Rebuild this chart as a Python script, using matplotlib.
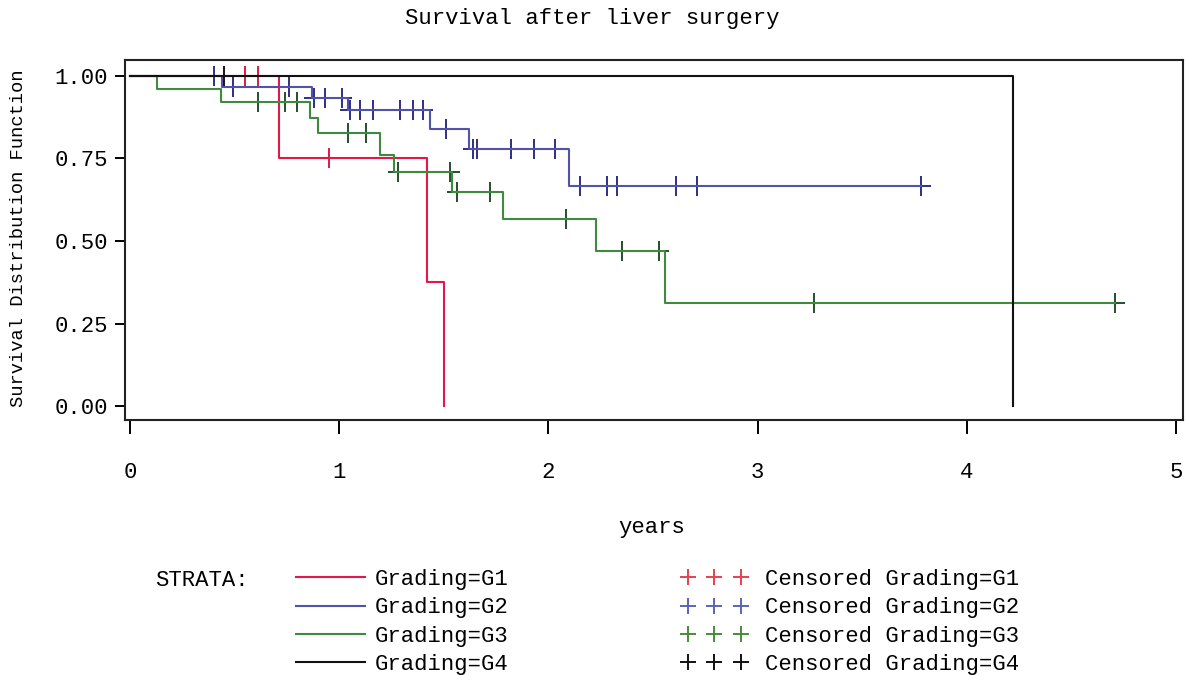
import numpy as np
import matplotlib
matplotlib.use("Agg")
import matplotlib.pyplot as plt
from matplotlib.lines import Line2D

plt.rcParams['font.family'] = ['Liberation Mono', 'DejaVu Sans Mono']

# Kaplan-Meier estimates per grading stratum (years, survival)
g1_times = [0.71, 1.42, 1.50]
g1_surv = [0.75, 0.375, 0.0]
g1_cens = [0.55, 0.61, 0.95]

g2_times = [0.44, 0.87, 1.04, 1.435, 1.62, 2.10]
g2_surv = [0.967, 0.933, 0.896, 0.84, 0.78, 0.667]
g2_cens = [0.40, 0.49, 0.76, 0.88, 0.93, 1.015, 1.05, 1.10, 1.16, 1.29,
           1.355, 1.40, 1.51, 1.64, 1.66, 1.82, 1.93, 2.03, 2.15, 2.28,
           2.33, 2.61, 2.71, 3.78]

g3_times = [0.13, 0.435, 0.86, 0.90, 1.195, 1.26, 1.54, 1.785, 2.23, 2.56]
g3_surv = [0.96, 0.92, 0.873, 0.827, 0.76, 0.709, 0.648, 0.567, 0.47, 0.312]
g3_cens = [0.61, 0.74, 0.80, 1.04, 1.13, 1.28, 1.53, 1.565, 1.72, 2.085,
           2.35, 2.53, 3.27, 4.71]

g4_times = [4.22]
g4_surv = [0.0]
g4_cens = [0.45]

labels = ['Grading=G1', 'Grading=G2', 'Grading=G3', 'Grading=G4']
line_cols = ['#e3174a', '#5252a8', '#3f8a3f', '#111111']
mark_cols = ['#d81a45', '#2e2e86', '#24502a', '#111111']
leg_mark_cols = ['#e8404f', '#5a64b4', '#4a8a3a', '#111111']

groups = [(g1_times, g1_surv, g1_cens),
          (g2_times, g2_surv, g2_cens),
          (g3_times, g3_surv, g3_cens),
          (g4_times, g4_surv, g4_cens)]

FS = 16

fig = plt.figure(figsize=(11.87, 6.75), dpi=100)
ax = fig.add_axes([0.1053, 0.3778, 0.8913, 0.5333])

for k, ((t, s, c), lc, mc) in enumerate(zip(groups, line_cols, mark_cols)):
    t = np.asarray(t)
    s = np.asarray(s)
    c = np.asarray(c)
    end = max(t.max(), c.max())
    xs = np.concatenate([[0.0], t, [end]])
    ys = np.concatenate([[1.0], s, [s[-1]]])
    # censor marks under the curve so only the vertical stroke shows
    idx = np.searchsorted(t, c, side='right')
    cy = np.concatenate([[1.0], s])[idx]
    ax.plot(c, cy, ls='none', marker='+', ms=14, mew=1.4, color=mc, zorder=2 + 2 * k)
    ax.step(xs, ys, where='post', color=lc, lw=1.5, zorder=3 + 2 * k)

ax.set_xlim(-0.024, 5.034)
ax.set_ylim(-0.042, 1.048)
ax.set_xticks([0, 1, 2, 3, 4, 5])
ax.set_yticks([0.0, 0.25, 0.5, 0.75, 1.0])
ax.set_yticklabels(['%.2f' % v for v in [0.0, 0.25, 0.5, 0.75, 1.0]])
ax.tick_params(axis='x', direction='out', length=10, width=1.4, pad=20, labelsize=FS)
ax.tick_params(axis='y', direction='out', length=7, width=1.4, pad=5, labelsize=FS)
for sp in ax.spines.values():
    sp.set_linewidth(1.5)
    sp.set_color('#222222')
    sp.set_zorder(20)

fig.text(0.4987, 0.973, 'Survival after liver surgery', ha='center', va='center',
         fontsize=FS)
fig.text(0.0152, 0.647, 'Survival Distribution Function', rotation=90,
         ha='center', va='center', fontsize=13.5)
fig.text(0.549, 0.219, 'years', ha='center', va='center', fontsize=FS)
fig.text(0.1306, 0.1407, 'STRATA:', ha='left', va='center', fontsize=FS)

line_handles = [Line2D([], [], color=lc, lw=1.5) for lc in line_cols]
leg1 = fig.legend(line_handles, labels, loc='upper left',
                  bbox_to_anchor=(296 / 1187, 1 - 569 / 675),
                  frameon=False, fontsize=FS, handlelength=3.1,
                  handletextpad=0.45, labelspacing=0.33, borderpad=0,
                  borderaxespad=0)

mark_handles = [Line2D([], [], ls='none', marker='+', ms=12, mew=1.4, color=mc)
                for mc in leg_mark_cols]
leg2 = fig.legend(mark_handles, ['Censored ' + l for l in labels], loc='upper left',
                  bbox_to_anchor=(681 / 1187, 1 - 569 / 675),
                  frameon=False, fontsize=FS, handlelength=3.0, numpoints=3,
                  handletextpad=0.8, labelspacing=0.33, borderpad=0,
                  borderaxespad=0)

fig.savefig('out.png', dpi=100)
